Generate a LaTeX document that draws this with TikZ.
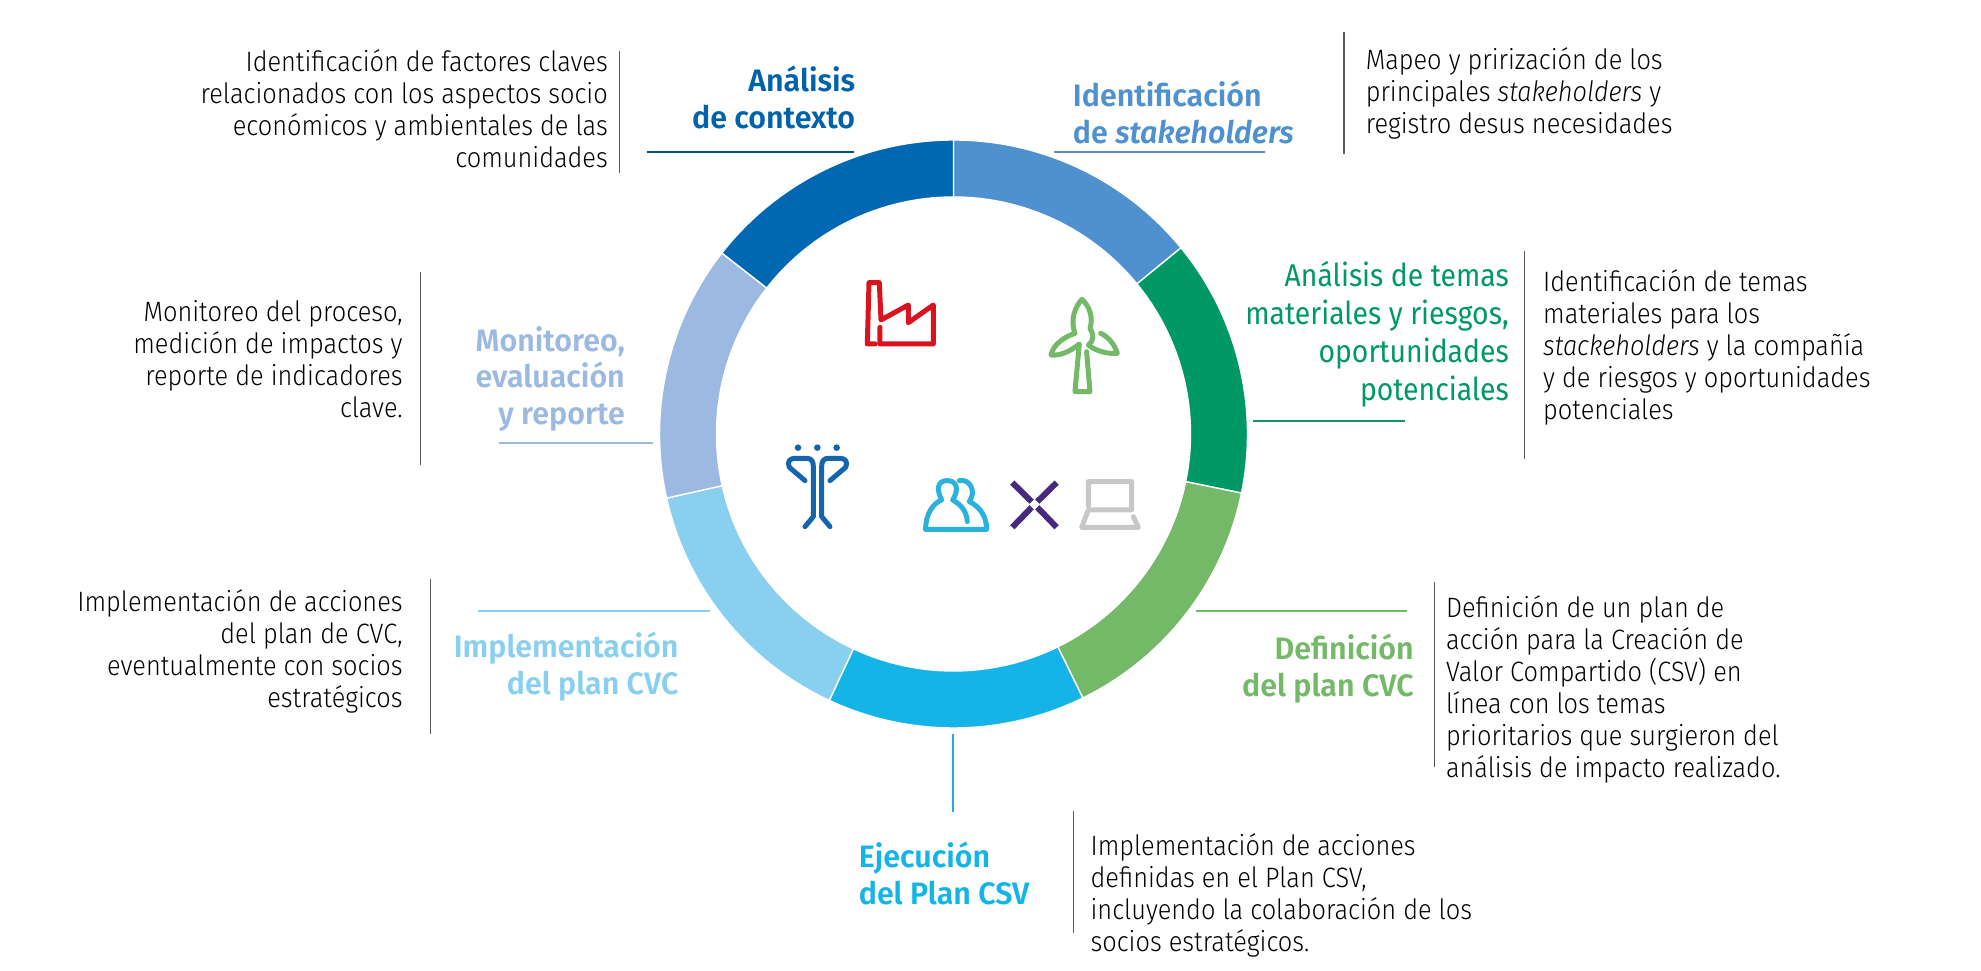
\documentclass[tikz,border=0pt]{standalone}
\usepackage{fontspec}
\usepackage{xcolor}
\newfontfamily\bodyfont[FakeStretch=0.905]{Fira Sans Light}
\newfontfamily\midfont[FakeStretch=0.9]{Fira Sans}
\newfontfamily\headfont[FakeStretch=0.98]{Fira Sans SemiBold}
\definecolor{ringa}{HTML}{0068B2}
\definecolor{ringb}{HTML}{4F91CF}
\definecolor{ringc}{HTML}{009966}
\definecolor{ringd}{HTML}{73B967}
\definecolor{ringe}{HTML}{14B5E6}
\definecolor{ringf}{HTML}{88CFF0}
\definecolor{ringg}{HTML}{9BB9E1}
\definecolor{iconred}{HTML}{D9141E}
\definecolor{iconpurple}{HTML}{472A7C}
\definecolor{iconcyan}{HTML}{2AB1DC}
\definecolor{icondark}{HTML}{1565AD}
\tikzset{
  bodytxt/.style={inner sep=0pt, font=\bodyfont\fontsize{28}{32}\selectfont, text=black},
  headtxt/.style={inner sep=0pt, font=\headfont\fontsize{31}{36.5}\selectfont},
  vrule/.style={line width=1.2pt, black!65},
  icon/.style={line width=5pt, line join=round, line cap=round},
}
\begin{document}
\begin{tikzpicture}[x=1pt,y=1pt]
    \useasboundingbox (0,0) rectangle (1981,971);

    % Ring
    \begin{scope}[shift={(953.5,537)}]
        \foreach \c/\a/\b in {ringb/90/39.3, ringc/39.3/-11.6, ringd/-11.6/-63.9, ringe/-63.9/-115,
                              ringf/-115/-167.4, ringg/-167.4/-218, ringa/-218/-270} {
            \draw[white, line width=1.4pt, fill=\c] (\a:237pt) -- (\a:294pt)
                arc[start angle=\a, end angle=\b, radius=294pt] -- (\b:237pt)
                arc[start angle=\b, end angle=\a, radius=237pt] -- cycle;
        }
    \end{scope}

    % Vertical rules next to the texts
    \foreach \n/\x/\ya/\yb in {1/619.3/920/798.3, 2/420.5/699/506, 3/1344/939/817,
                               4/1524.7/720/512, 5/430.6/392/237, 6/1434.4/389.3/204.3,
                               7/1073.3/160/38} {
        \coordinate (vtop\n) at (\x,\ya);
        \coordinate (vbot\n) at (\x,\yb);
        \draw[vrule] (vtop\n) -- (vbot\n);
    }

    % Rules under the headings
    \foreach \n/\c/\xa/\ya/\xb/\yb in {1/ringa!80!black/647/819.3/853.5/819.3,
                                       2/ringb!85!gray/1054/819.3/1264.6/819.3,
                                       3/ringc!85!gray/1253/550.3/1405/550.3,
                                       4/ringg/499/528.3/653/528.3,
                                       5/ringf/478/360/710/360,
                                       6/ringd/1196/360/1406.7/360,
                                       7/ringe!85!gray/953/237/953/159.3} {
        \coordinate (hfrom\n) at (\xa,\ya);
        \coordinate (hto\n) at (\xb,\yb);
        \draw[\c, line width=1.8pt] (hfrom\n) -- (hto\n);
    }

    % Headings
    \node[headtxt, text=ringa!95!black, align=right, anchor=east] (contexto) at (855.4,873.5) {Análisis\\de contexto};
    \node[headtxt, text=ringb, align=left, anchor=west] (stake) at (1072.7,858.5) {Identificación\\de \textit{stakeholders}};
    \node[headtxt, text=ringc, align=right, anchor=east, font=\midfont\fontsize{31.5}{38}\selectfont] (temas) at (1509,637) {Análisis de temas\\materiales y riesgos,\\oportunidades\\potenciales};
    \node[headtxt, text=ringd, align=right, anchor=east] (defin) at (1414,302.5) {Definición\\del plan CVC};
    \node[headtxt, text=ringe, align=left, anchor=west] (ejec) at (858.6,97.7) {Ejecución\\del Plan CSV};
    \node[headtxt, text=ringf, align=right, anchor=east] (impl) at (678.7,304.5) {Implementación\\del plan CVC};
    \node[headtxt, text=ringg, align=right, anchor=east] (monit) at (625,592.5) {Monitoreo,\\evaluación\\y reporte};

    % Texts
    \node[bodytxt, align=right, anchor=east] (txtcontexto) at (608,862.5) {Identificación de factores claves\\relacionados con los aspectos socio\\económicos y ambientales de las\\comunidades};
    \node[bodytxt, align=left, anchor=west] (txtstake) at (1365.6,877.5) {Mapeo y prirización de los\\principales \textit{stakeholders} y\\registro desus necesidades};
    \node[bodytxt, align=left, anchor=west] (txttemas) at (1543,624) {Identificación de temas\\materiales para los\\\textit{stackeholders} y la compañía\\y de riesgos y oportunidades\\potenciales};
    \node[bodytxt, align=left, anchor=west] (txtdefin) at (1445.8,282) {Definición de un plan de\\acción para la Creación de\\Valor Compartido (CSV) en\\línea con los temas\\prioritarios que surgieron del\\análisis de impacto realizado.};
    \node[bodytxt, align=left, anchor=west] (txtejec) at (1090.4,76) {Implementación de acciones\\definidas en el Plan CSV,\\incluyendo la colaboración de los\\socios estratégicos.};
    \node[bodytxt, align=right, anchor=east] (txtimpl) at (402.8,320) {Implementación de acciones\\del plan de CVC,\\eventualmente con socios\\estratégicos};
    \node[bodytxt, align=right, anchor=east] (txtmonit) at (402.8,612) {Monitoreo del proceso,\\medición de impactos y\\reporte de indicadores\\clave.};

    % Icons
    \begin{scope}[shift={(760,701)},x=0.3333pt,y=-0.3333pt]
        % factory
        \draw[icon, iconred]
            (345,222) -- (322,222) -- (327,38) -- (358,38) -- (363,150) -- (445,105) -- (445,158)
            -- (520,105) -- (520,222) -- (360,222) -- (360,172);
        % turbine
        \draw[icon, ringd]
            (980,245) -- (990,365) -- (945,365) -- (958,222)
            .. controls (930,245) and (900,258) .. (873,255)
            .. controls (880,222) and (915,200) .. (945,190)
            .. controls (930,150) and (945,110) .. (966,88)
            .. controls (990,110) and (1000,145) .. (990,175)
            .. controls (1002,195) and (1003,210) .. (985,225)
            .. controls (1010,245) and (1045,252) .. (1072,250)
            .. controls (1065,225) and (1045,200) .. (1022,190);
        % people with dots
        \foreach \x in {114,172,230}
            \fill[icondark] (\x,533) circle (3.3pt);
        \draw[icon, icondark] (135,632) -- (88,592) .. controls (80,575) and (90,565) .. (105,565)
            -- (140,565) .. controls (155,565) and (160,575) .. (160,590) -- (160,740) -- (135,770);
        \draw[icon, icondark] (210,632) -- (257,592) .. controls (265,575) and (255,565) .. (240,565)
            -- (205,565) .. controls (190,565) and (185,575) .. (185,590) -- (185,740) -- (210,770);
        % two persons
        \draw[icon, iconcyan] (497,778) -- (680,778)
            .. controls (680,740) and (660,710) .. (628,695)
            .. controls (650,665) and (630,625) .. (598,632);
        \draw[icon, iconcyan] (497,778)
            .. controls (497,730) and (520,700) .. (545,690)
            .. controls (530,660) and (530,632) .. (562,632)
            .. controls (595,632) and (595,665) .. (578,690)
            .. controls (605,705) and (620,725) .. (622,755);
        % cross
        \foreach \xa/\ya/\xb/\yb in {757/638/815/695, 890/638/832/695, 757/772/815/712, 890/772/832/712}
            \draw[line width=6pt, iconpurple] (\xa,\ya) -- (\xb,\yb);
        % laptop
        \draw[icon, black!22] (985,708) -- (985,635) -- (1115,635) -- (1115,720) -- (985,720)
            -- (965,772) -- (1135,772) -- (1120,740);
    \end{scope}
\end{tikzpicture}
\end{document}
